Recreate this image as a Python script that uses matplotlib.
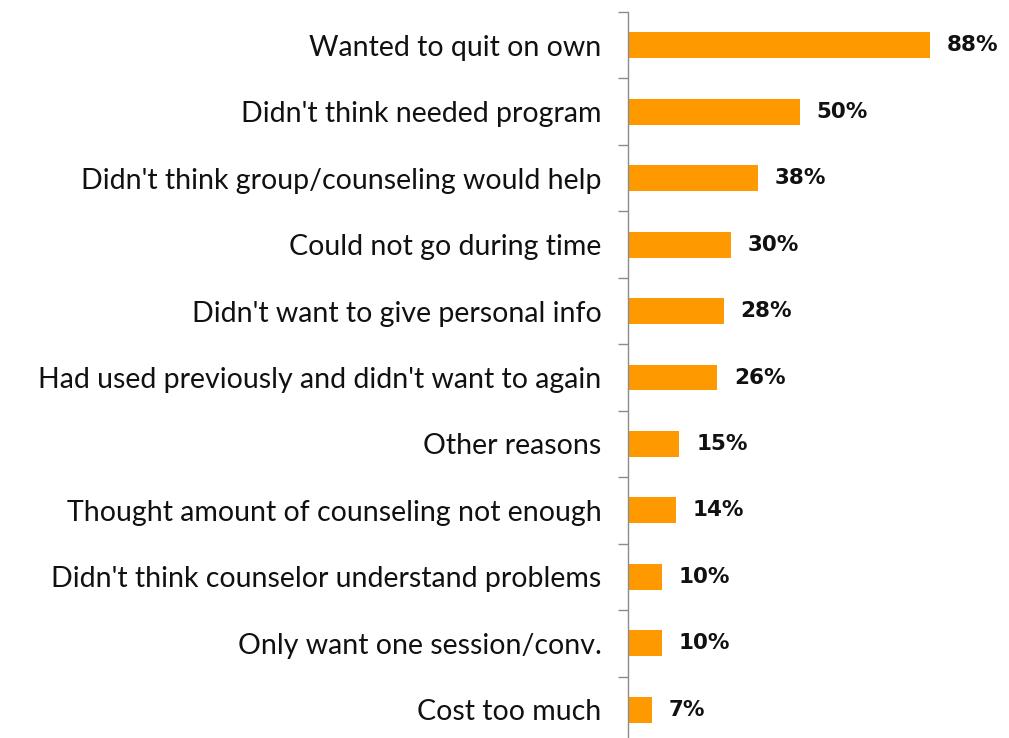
import matplotlib
matplotlib.use('Agg')
import matplotlib.pyplot as plt
import numpy as np

reasons = [
    "Wanted to quit on own",
    "Didn't think needed program",
    "Didn't think group/counseling would help",
    "Could not go during time",
    "Didn't want to give personal info",
    "Had used previously and didn't want to again",
    "Other reasons",
    "Thought amount of counseling not enough",
    "Didn't think counselor understand problems",
    "Only want one session/conv.",
    "Cost too much",
]
pct = [88, 50, 38, 30, 28, 26, 15, 14, 10, 10, 7]

fig = plt.figure(figsize=(10.09, 7.38), dpi=100)
ax = fig.add_axes([0.6224, -0.0068, 0.34, 0.9905])

y = np.arange(len(reasons))
ax.barh(y, pct, height=0.39, color='#FF9900')
ax.set_ylim(len(reasons) - 0.5, -0.5)
ax.set_xlim(0, 100)

ax.set_yticks(y)
ax.set_yticklabels(reasons, fontsize=20.5, family='Lato', color='#111111')
ax.tick_params(axis='y', which='major', length=0, pad=19)
ax.set_yticks(np.arange(-0.5, len(reasons), 1), minor=True)
ax.tick_params(axis='y', which='minor', length=7.5, width=1, color='#8c8c8c')
ax.set_xticks([])

for s in ['top', 'right', 'bottom']:
    ax.spines[s].set_visible(False)
ax.spines['left'].set_color('#8c8c8c')
ax.spines['left'].set_linewidth(1)

for yi, v in zip(y, pct):
    ax.annotate(f"{v}%", (v, yi), xytext=(12, 0), textcoords='offset points',
                ha='left', va='center', fontsize=15.5, fontweight='bold',
                color='#111111')

fig.savefig('out.png', dpi=100)
